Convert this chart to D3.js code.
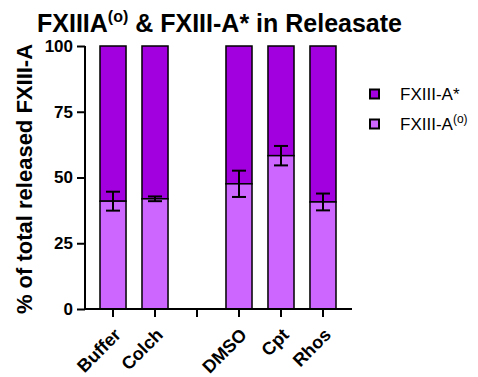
<!DOCTYPE html>
<html><head><meta charset="utf-8">
<script src="https://cdn.jsdelivr.net/npm/d3@7"></script>
<style>body{margin:0;background:#fff}svg{font-family:"Liberation Sans",Arial,sans-serif}</style>
</head><body>
<svg id="c" width="478" height="377"></svg>
<script>
const categories = ["Buffer", "Colch", "", "DMSO", "Cpt", "Rhos"];
const lowerValues = [41.0, 41.9, null, 47.6, 58.3, 40.7];   // FXIII-A(o)
const lowerErrors = [3.6, 0.9, null, 5.0, 3.7, 3.2];
const upperValues = [59.0, 58.1, null, 52.4, 41.7, 59.3];   // FXIII-A*
const yTicks = [0, 25, 50, 75, 100];

const colUpper = "#A300DF", colLower = "#CC66FF";
const svg = d3.select("#c");
const x = d3.scaleBand().domain(categories.map((c,i)=>i)).range([85, 351]).paddingInner(0.38).paddingOuter(0.357);
const y = d3.scaleLinear().domain([0, 100]).range([309, 46]);

// bars
const g = svg.append("g");
categories.forEach((c, i) => {
  if (lowerValues[i] == null) return;
  const lo = lowerValues[i], up = upperValues[i];
  g.append("rect").attr("x", x(i)).attr("width", x.bandwidth())
    .attr("y", y(lo + up)).attr("height", y(lo) - y(lo + up))
    .attr("fill", colUpper).attr("stroke", "#000").attr("stroke-width", 1.5);
  g.append("rect").attr("x", x(i)).attr("width", x.bandwidth())
    .attr("y", y(lo)).attr("height", y(0) - y(lo))
    .attr("fill", colLower).attr("stroke", "#000").attr("stroke-width", 1.5);
  const cx = x(i) + x.bandwidth() / 2, e = lowerErrors[i];
  const eg = g.append("g").attr("stroke", "#000").attr("stroke-width", 2);
  eg.append("line").attr("x1", cx).attr("x2", cx).attr("y1", y(lo + e)).attr("y2", y(lo - e));
  eg.append("line").attr("x1", cx - 7).attr("x2", cx + 7).attr("y1", y(lo + e)).attr("y2", y(lo + e));
  eg.append("line").attr("x1", cx - 7).attr("x2", cx + 7).attr("y1", y(lo - e)).attr("y2", y(lo - e));
});

// y axis
const ya = svg.append("g").attr("transform", "translate(85,0)")
  .call(d3.axisLeft(y).tickValues(yTicks).tickSize(8).tickPadding(4));
ya.select(".domain").attr("stroke-width", 2).attr("d", `M0,${y(100)}V${y(0)}`);
ya.selectAll(".tick line").attr("stroke-width", 2);
ya.selectAll(".tick text").attr("font-size", 17).attr("font-weight", "bold").attr("fill", "#000")
  .attr("font-family", "Liberation Sans, Arial, sans-serif");

// x axis
const xa = svg.append("g").attr("transform", `translate(0,${y(0)})`)
  .call(d3.axisBottom(x).tickSize(8).tickFormat(i => categories[i]));
xa.select(".domain").attr("stroke-width", 2).attr("d", `M84,0H352`);
xa.selectAll(".tick line").attr("stroke-width", 2);
xa.selectAll(".tick text").attr("font-size", 18).attr("font-weight", "bold").attr("fill", "#000")
  .attr("font-family", "Liberation Sans, Arial, sans-serif")
  .attr("text-anchor", "end").attr("dy", null).attr("y", 0)
  .attr("transform", "translate(9,27) rotate(-45)");

// title
const t = svg.append("text").attr("x", 37).attr("y", 32).attr("font-size", 25).attr("font-weight", "bold");
t.append("tspan").text("FXIIIA");
t.append("tspan").text("(o)").attr("font-size", 16).attr("dy", -10);
t.append("tspan").text(" & FXIII-A* in Releasate").attr("font-size", 25).attr("dy", 10);

// y label
svg.append("text").attr("transform", "translate(32,179) rotate(-90)").attr("text-anchor", "middle")
  .attr("font-size", 22).attr("font-weight", "bold").text("% of total released FXIII-A");

// legend
const legend = [["FXIII-A*", colUpper, false], ["FXIII-A", colLower, true]];
legend.forEach((d, i) => {
  const ly = 94 + i * 30;
  svg.append("rect").attr("x", 370).attr("y", ly - 4.5).attr("width", 9).attr("height", 9)
    .attr("fill", d[1]).attr("stroke", "#000").attr("stroke-width", 2);
  const tx = svg.append("text").attr("x", 400).attr("y", ly + 6).attr("font-size", 17).text(d[0]);
  if (d[2]) tx.append("tspan").text("(o)").attr("font-size", 12).attr("dy", -7);
});
</script>
</body></html>
